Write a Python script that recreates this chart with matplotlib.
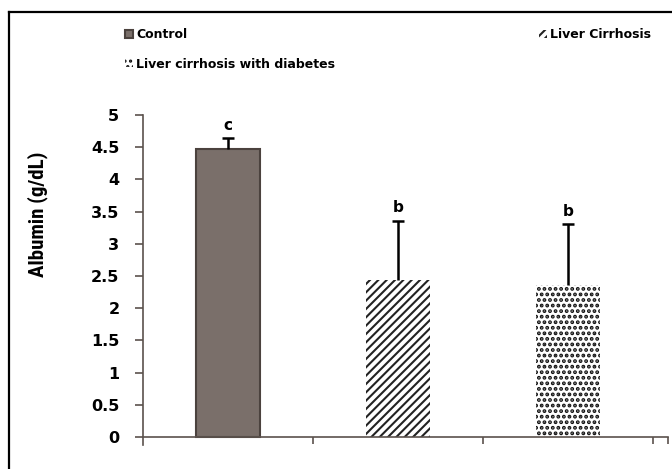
import matplotlib
matplotlib.use("Agg")
import matplotlib.pyplot as plt
from matplotlib.lines import Line2D

groups = ["Control", "Liver Cirrhosis", "Liver cirrhosis with diabetes"]
albumin = [4.47, 2.44, 2.36]
sd = [0.17, 0.92, 0.95]
letters = ["c", "b", "b"]

face = ["#7a6f6a", "white", "white"]
edge = ["#4b423e", "#222222", "#111111"]
hatches = [None, "////", "..."]
hatch_lw = [1.5, 1.5, 1.9]

plt.rcParams["hatch.linewidth"] = 1.5
axis_col = "#5b524d"
wide = ["DejaVu Sans"]
narrow = ["Liberation Sans Narrow", "DejaVu Sans Condensed", "Roboto Condensed", "Roboto"]

fig = plt.figure(figsize=(6.72, 4.69), dpi=100)
W, H = 672, 469
ax = fig.add_axes([143 / W, 24.3 / H, (668 - 143) / W, (354 - 24.3) / H])

bars = []
for i, g in enumerate(groups):
    b = ax.bar(i, albumin[i], width=0.376, color=face[i], edgecolor=edge[i],
               linewidth=1.5 if i == 0 else 0, hatch=hatches[i], label=g, zorder=2)
    for p in b.patches:
        if hasattr(p, "set_hatch_linewidth"):
            p.set_hatch_linewidth(hatch_lw[i])
    bars.append(b)
    # upper error bar only, with a single cap
    top = albumin[i] + sd[i]
    ax.vlines(i, albumin[i], top, color="black", lw=1.8, zorder=3)
    ax.plot(i, top, marker="_", ms=9, mew=1.8, color="black", zorder=3)
    ax.text(i, top + 0.08, letters[i], ha="center", va="bottom",
            fontsize=11, fontweight="bold", family=wide)

ax.set_xlim(-0.5, 2.588)
ax.set_ylim(-0.12, 5)
ax.set_yticks([0, 0.5, 1, 1.5, 2, 2.5, 3, 3.5, 4, 4.5, 5])
ax.set_yticklabels(["0", "0.5", "1", "1.5", "2", "2.5", "3", "3.5", "4", "4.5", "5"])
ax.set_xticks([0.5, 1.5, 2.5, 2.588])
ax.set_xticklabels([])
for s in ["top", "right"]:
    ax.spines[s].set_visible(False)
ax.spines["bottom"].set_position(("data", 0))
for s in ["left", "bottom"]:
    ax.spines[s].set_color(axis_col)
    ax.spines[s].set_linewidth(1.2)
ax.tick_params(axis="y", direction="out", length=6, width=1.2, color=axis_col,
               pad=11, labelsize=11.5)
ax.tick_params(axis="x", direction="out", length=5, width=1.2, color=axis_col)
for t in ax.get_yticklabels():
    t.set_fontweight("bold")
    t.set_family(wide)

fig.text(38 / W, 1 - 214 / H, "Albumin (g/dL)", rotation=90, ha="center", va="center",
         fontsize=15, fontweight="bold", family=narrow)

# legend: Control and diabetes in the left column, Liver Cirrhosis on the right
leg = fig.legend(handles=[bars[0], bars[2], bars[1]],
                 labels=[groups[0], groups[2], groups[1]],
                 ncol=2, loc="upper left", bbox_to_anchor=(114 / W, 1 - 17 / H),
                 frameon=False, handlelength=0.6, handleheight=0.6,
                 handletextpad=0.3, columnspacing=16.3, labelspacing=1.3,
                 prop={"family": wide, "weight": "bold", "size": 9})

# outer frame
fig.add_artist(Line2D([9 / W, 9 / W], [0, 1 - 12 / H], transform=fig.transFigure,
                      color="black", lw=1.6))
fig.add_artist(Line2D([9 / W, 1], [1 - 12 / H, 1 - 12 / H], transform=fig.transFigure,
                      color="black", lw=1.6))

fig.savefig("out.png", dpi=100)
